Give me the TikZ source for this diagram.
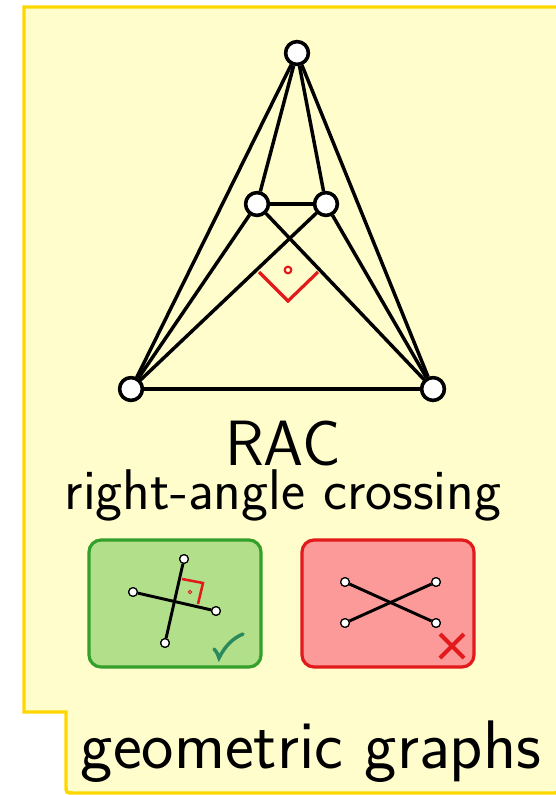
\documentclass[tikz,border=0pt]{standalone}
\usepackage{fontspec}
\begin{document}
\begin{tikzpicture}[x=0.75pt,y=-0.75pt,
  vbig/.style={circle,draw=black,fill=white,line width=2.6pt,minimum size=17pt,inner sep=0pt},
  vsmall/.style={circle,draw=black,fill=white,line width=0.9pt,minimum size=6.5pt,inner sep=0pt},
  gedge/.style={line width=2.6pt},
  sedge/.style={line width=2.2pt},
  ramark/.style={draw=rac red,line width=2.4pt},
  ]
\definecolor{bgyellow}{HTML}{FFFDCC}
\definecolor{bordergold}{HTML}{FFD700}
\definecolor{okfill}{HTML}{B2DF8A}
\definecolor{okdraw}{HTML}{33A02C}
\definecolor{badfill}{HTML}{FB9A99}
\definecolor{baddraw}{HTML}{E31A1C}
\definecolor{rac red}{HTML}{E31A1C}
\definecolor{checkteal}{HTML}{2A8A5E}
\useasboundingbox (0,0) rectangle (556,795);
% background panel
\draw[fill=bgyellow,draw=bordergold,line width=2.6pt]
  (24,7) -- (560,7) -- (560,785) .. controls (560,793) .. (552,793)
  -- (74,793) .. controls (66,793) .. (66,785) -- (66,712) -- (24,712) -- cycle;
% main graph
\node[vbig] (t) at (297,53) {};
\node[vbig] (l) at (257,204) {};
\node[vbig] (r) at (326,204) {};
\node[vbig] (bl) at (131,389) {};
\node[vbig] (br) at (433,389) {};
\draw[gedge] (t) -- (l);
\draw[gedge] (t) -- (r);
\draw[gedge] (t) -- (bl);
\draw[gedge] (t) -- (br);
\draw[gedge] (l) -- (r);
\draw[gedge] (l) -- (bl);
\draw[gedge] (l) -- (br);
\draw[gedge] (r) -- (bl);
\draw[gedge] (r) -- (br);
\draw[gedge] (bl) -- (br);
% redraw nodes on top
\node[vbig] at (t) {};
\node[vbig] at (l) {};
\node[vbig] at (r) {};
\node[vbig] at (bl) {};
\node[vbig] at (br) {};
% right angle marker
\coordinate (ma) at (259,272);
\coordinate (mb) at (288,301);
\coordinate (mc) at (318,272);
\draw[ramark,line join=miter] (ma) -- (mb) -- (mc);
\node[circle,draw=rac red,line width=1.6pt,minimum size=5pt,inner sep=0pt] (md) at (288,270) {};
% texts
\node[anchor=base,inner sep=0pt,font=\sffamily\fontsize{48}{52}\selectfont] (rac) at (283,465) {RAC};
\node[anchor=base,inner sep=0pt,font=\sffamily\fontsize{43}{47}\selectfont] (rac2) at (283,509) {right-angle crossing};
\node[anchor=base,inner sep=0pt,font=\sffamily\fontsize{51.5}{56}\selectfont] (geo) at (311,768) {geometric graphs};
% good box
\draw[fill=okfill,draw=okdraw,line width=2.4pt,rounded corners=9pt] (89,540) rectangle (261,667);
\node[vsmall] (ga) at (184,559) {};
\node[vsmall] (gb) at (165,643) {};
\node[vsmall] (gc) at (133,592) {};
\node[vsmall] (gd) at (216,611) {};
\draw[ramark,line width=1.9pt,line join=miter] (182,579) -- (203,583) -- (198,604);
\node[circle,draw=rac red,line width=0.7pt,minimum size=2.5pt,inner sep=0pt] (gm) at (190,592) {};
\draw[sedge] (ga) -- (gb);
\draw[sedge] (gc) -- (gd);
\node[vsmall] at (ga) {};
\node[vsmall] at (gb) {};
\node[vsmall] at (gc) {};
\node[vsmall] at (gd) {};
\draw[checkteal,line width=2.6pt,line cap=round] (214,649) .. controls (217,652) and (218,655) .. (219,658) .. controls (225,646) and (233,638) .. (243,634);
% bad box
\draw[fill=badfill,draw=baddraw,line width=2.4pt,rounded corners=9pt] (302,540) rectangle (474,667);
\node[vsmall] (ra) at (345,582) {};
\node[vsmall] (rb) at (436,582) {};
\node[vsmall] (rc) at (345,623) {};
\node[vsmall] (rd) at (436,623) {};
\draw[sedge] (ra) -- (rd);
\draw[sedge] (rc) -- (rb);
\node[vsmall] at (ra) {};
\node[vsmall] at (rb) {};
\node[vsmall] at (rc) {};
\node[vsmall] at (rd) {};
\draw[baddraw,line width=3pt] (440,634) -- (464,658);
\draw[baddraw,line width=3pt] (464,634) -- (440,658);
\end{tikzpicture}
\end{document}
